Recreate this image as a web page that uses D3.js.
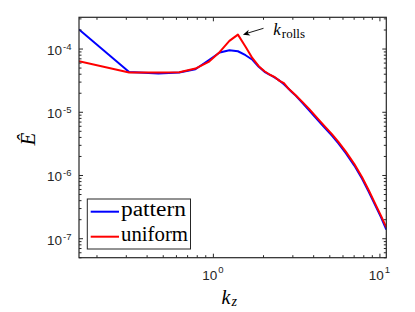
<!DOCTYPE html>
<html><head><meta charset="utf-8">
<script src="https://cdn.jsdelivr.net/npm/d3@7"></script>
<style>body{margin:0;background:#fff}svg{display:block}</style>
</head><body>
<script>
// ---- data ----
const kz = [0.1571,0.3142,0.4712,0.6283,0.7854,0.9425,1.0996,1.2566,1.4137,1.5708,1.7279,1.8850,2.0420,2.1991,2.3562,2.5133,2.6704,2.8274,2.9845,3.1416,3.4558,3.7699,4.0841,4.3982,4.7124,5.1836,5.6549,6.2832,7.0686,7.8540,8.6394,9.4248,10.2102,10.9956];
const pattern = [2.0e-4,4.27e-5,4.03e-5,4.18e-5,4.71e-5,6.53e-5,8.65e-5,9.4e-5,9.06e-5,7.84e-5,6.65e-5,5.15e-5,4.29e-5,3.85e-5,3.46e-5,3.10e-5,2.73e-5,2.36e-5,2.04e-5,1.80e-5,1.37e-5,1.06e-5,8.37e-6,6.73e-6,5.51e-6,4.19e-6,3.19e-6,2.22e-6,1.41e-6,8.77e-7,5.37e-7,3.34e-7,2.16e-7,1.37e-7];
const uniform = [6.3e-5,4.18e-5,4.18e-5,4.22e-5,4.83e-5,6.14e-5,8.84e-5,1.32e-4,1.66e-4,1.07e-4,7.03e-5,5.25e-5,4.38e-5,3.85e-5,3.52e-5,3.08e-5,2.83e-5,2.36e-5,2.08e-5,1.83e-5,1.42e-5,1.12e-5,8.83e-6,7.10e-6,5.82e-6,4.43e-6,3.37e-6,2.34e-6,1.49e-6,9.27e-7,5.67e-7,3.53e-7,2.28e-7,1.48e-7];
const seriesNames = ["pattern","uniform"];
const seriesColors = ["#0000ff","#ff0000"];
const xMajor = [1,10];
const xMajorExp = ["0","1"];
const yMajor = [1e-7,1e-6,1e-5,1e-4];
const yMajorExp = ["-7","-6","-5","-4"];
const xDomain = [0.15708, 10.9956];
const yDomain = [4.92e-8, 3.12e-4];
const annotText = ["k","rolls"];
const annotK = 1.4137, annotE = 1.66e-4;

// ---- layout ----
const W = 415, H = 312;
const L = 79, R = 386.3, T = 17.3, B = 257.7;
const axisCol = "#262626";

const svg = d3.select("body").append("svg").attr("width", W).attr("height", H);
svg.append("rect").attr("width", W).attr("height", H).attr("fill", "#fff");

const x = d3.scaleLog().domain(xDomain).range([L, R]);
const y = d3.scaleLog().domain(yDomain).range([B, T]);

svg.append("clipPath").attr("id","clip").append("rect")
  .attr("x", L).attr("y", T).attr("width", R-L).attr("height", B-T);

const line = d3.line().x(d => x(d[0])).y(d => y(d[1]));
const allSeries = [pattern, uniform];
allSeries.forEach((s, i) => {
  svg.append("path")
    .datum(kz.map((k, j) => [k, s[j]]))
    .attr("d", line)
    .attr("fill", "none")
    .attr("stroke", seriesColors[i])
    .attr("stroke-width", 2)
    .attr("stroke-linejoin", "round")
    .attr("clip-path", "url(#clip)");
});

// minor ticks
function minors(dom) {
  const out = [];
  const lo = Math.floor(Math.log10(dom[0])), hi = Math.ceil(Math.log10(dom[1]));
  for (let e = lo; e <= hi; e++) for (let m = 2; m <= 9; m++) {
    const v = m * Math.pow(10, e);
    if (v >= dom[0] && v <= dom[1]) out.push(v);
  }
  return out;
}
const xMinor = minors(xDomain), yMinor = minors(yDomain);

function addAxis(axisGen, tx, ty) {
  const g = svg.append("g").attr("transform", `translate(${tx},${ty})`).call(axisGen);
  g.select(".domain").remove();
  g.selectAll("text").remove();
  g.selectAll("line").attr("stroke", axisCol).attr("stroke-width", 1);
}
// bottom/top
addAxis(d3.axisBottom(x).tickValues(xMajor).tickSize(-4), 0, B);
addAxis(d3.axisBottom(x).tickValues(xMinor).tickSize(-2.5), 0, B);
addAxis(d3.axisTop(x).tickValues(xMajor).tickSize(-4), 0, T);
addAxis(d3.axisTop(x).tickValues(xMinor).tickSize(-2.5), 0, T);
addAxis(d3.axisLeft(y).tickValues(yMajor).tickSize(-4), L, 0);
addAxis(d3.axisLeft(y).tickValues(yMinor).tickSize(-2.5), L, 0);
addAxis(d3.axisRight(y).tickValues(yMajor).tickSize(-4), R, 0);
addAxis(d3.axisRight(y).tickValues(yMinor).tickSize(-2.5), R, 0);

svg.append("rect").attr("x", L).attr("y", T).attr("width", R-L).attr("height", B-T)
  .attr("fill", "none").attr("stroke", axisCol).attr("stroke-width", 1.2);

// tick labels
const sans = "'Liberation Sans', Arial, Helvetica, sans-serif";
xMajor.forEach((v, i) => {
  const t = svg.append("text").attr("x", x(v)).attr("y", B + 22)
    .attr("text-anchor", "middle").attr("font-family", sans).attr("fill", axisCol)
    .attr("font-size", 13.5);
  t.append("tspan").text("10");
  t.append("tspan").attr("font-size", 9.5).attr("dy", -7).attr("dx", 1).text(xMajorExp[i]);
});
yMajor.forEach((v, i) => {
  const t = svg.append("text").attr("x", L - 7.5).attr("y", y(v) + 6.5)
    .attr("text-anchor", "end").attr("font-family", sans).attr("fill", axisCol)
    .attr("font-size", 13.5);
  t.append("tspan").text("10");
  t.append("tspan").attr("font-size", 9.5).attr("dy", -5).attr("dx", 1).text(yMajorExp[i]);
});

// axis labels
const serif = "'Liberation Serif', 'Times New Roman', serif";
const xl = svg.append("text").attr("x", 221.5).attr("y", 304)
  .attr("font-family", serif).attr("font-style", "italic").attr("font-size", 20).attr("fill", "#000");
xl.append("tspan").text("k");
xl.append("tspan").attr("font-size", 14).attr("dy", 2).attr("dx", 1).text("z");

svg.append("text").attr("transform", "translate(35,139) rotate(-90)")
  .attr("text-anchor", "middle").attr("font-family", serif).attr("font-style", "italic")
  .attr("font-size", 21).attr("fill", "#000").text("Ê");

// annotation
const ax = x(annotK), ay = y(annotE);
const tipX = ax + 5, tipY = ay;
const tailX = 263.5, tailY = 28.3;
svg.append("line").attr("x1", tailX).attr("y1", tailY).attr("x2", tipX + 2).attr("y2", tipY - 0.7)
  .attr("stroke", "#000").attr("stroke-width", 0.9);
{
  const ang = Math.atan2(tipY - tailY, tipX - tailX);
  const len = 7, wid = 3;
  const bx = tipX - len * Math.cos(ang), by = tipY - len * Math.sin(ang);
  const px = -Math.sin(ang) * wid, py = Math.cos(ang) * wid;
  const bx2 = tipX - len*0.7 * Math.cos(ang), by2 = tipY - len*0.7 * Math.sin(ang);
  svg.append("path")
    .attr("d", `M${tipX},${tipY}L${bx+px},${by+py}L${bx2},${by2}L${bx-px},${by-py}Z`)
    .attr("fill", "#000");
}
const at = svg.append("text").attr("x", 273.3).attr("y", 35)
  .attr("font-family", serif).attr("font-size", 17).attr("fill", "#000");
at.append("tspan").attr("font-style", "italic").text(annotText[0]);
at.append("tspan").attr("font-size", 13).attr("dy", 3.3).attr("dx", 1).text(annotText[1]);

// legend
const lg = svg.append("g");
lg.append("rect").attr("x", 87.3).attr("y", 199).attr("width", 103.2).attr("height", 50)
  .attr("fill", "#fff").attr("stroke", axisCol).attr("stroke-width", 1);
seriesNames.forEach((n, i) => {
  const cy = 211.7 + i * 25;
  lg.append("line").attr("x1", 90.7).attr("x2", 119).attr("y1", cy).attr("y2", cy)
    .attr("stroke", seriesColors[i]).attr("stroke-width", 2);
  lg.append("text").attr("x", 121).attr("y", cy + 4.3)
    .attr("font-family", serif).attr("font-size", 20).attr("fill", "#000")
    .attr("textLength", i === 0 ? 65 : 67).attr("lengthAdjust", "spacingAndGlyphs")
    .text(n);
});
</script>
</body></html>
